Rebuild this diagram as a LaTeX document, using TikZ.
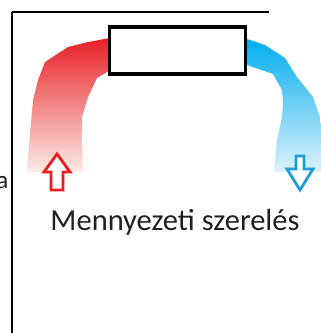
\documentclass[tikz,border=0pt]{standalone}
\usepackage{fontspec}
\setmainfont{Carlito}
\usepackage{tikz}
\usetikzlibrary{positioning}
\definecolor{hotred}{RGB}{232,32,38}
\definecolor{hotmid}{RGB}{238,125,100}
\definecolor{hotpale}{RGB}{252,236,230}
\definecolor{coldblue}{RGB}{0,174,239}
\definecolor{coldmid}{RGB}{90,200,240}
\definecolor{coldpale}{RGB}{222,241,251}
\definecolor{arrowred}{RGB}{237,28,36}
\definecolor{arrowblue}{RGB}{29,158,214}
\definecolor{textgray}{RGB}{35,31,32}
\tikzset{
        frame/.style={line width=1.2pt},
        unitbox/.style={draw, line width=3.3pt, fill=white,
                        minimum width=136pt, minimum height=47pt},
        hotband/.style={top color=hotred, middle color=hotmid,
                        bottom color=hotpale},
        coldband/.style={top color=coldblue, middle color=coldmid,
                         bottom color=coldpale},
        hollow/.style={line width=2.8pt, line join=miter, fill=white},
}

\begin{document}
\begin{tikzpicture}[x=1pt, y=-1pt]
    \useasboundingbox (0,0) rectangle (321,333);

    % frame
    \draw[frame] (12,12) -- (269,12);
    \draw[frame] (12,12) -- (12,333);

    % warm and cold air bands
    \shade[hotband] (110,38) -- (88,42) -- (68,47) -- (45,62) -- (38,80)
        -- (33,100) -- (30,133) -- (27,172) -- (83,172) -- (82,140)
        -- (82,117) -- (88,97) -- (97,78) -- (112,69) -- cycle;
    \shade[coldband] (244,38) -- (265,45) -- (285,58) -- (297,77)
        -- (313,97) -- (320,117) -- (323,140) -- (323,172) -- (274,172)
        -- (277,140) -- (282,117) -- (283,103) -- (282,90) -- (273,74)
        -- (244,64) -- cycle;

    \node[unitbox] (unit) at (177.5,50.5) {};

    % arrows
    \draw[hollow, draw=arrowred] (57,154) -- (70,172) -- (63,172)
        -- (63,190) -- (51,190) -- (51,172) -- (44,172) -- cycle;
    \draw[hollow, draw=arrowblue] (296,156) -- (304,156) -- (304,169)
        -- (313,169) -- (300,190) -- (287,169) -- (296,169) -- cycle;

    \node[anchor=base, text=textgray, font=\fontsize{30.5}{32}\selectfont]
         (label) at (175,230) {Mennyezeti szerelés};
    \node[anchor=base east, inner sep=0pt, text=textgray,
          font=\fontsize{25}{27}\selectfont] (side) at (8.5,188.5) {a};

\end{tikzpicture}
\end{document}
